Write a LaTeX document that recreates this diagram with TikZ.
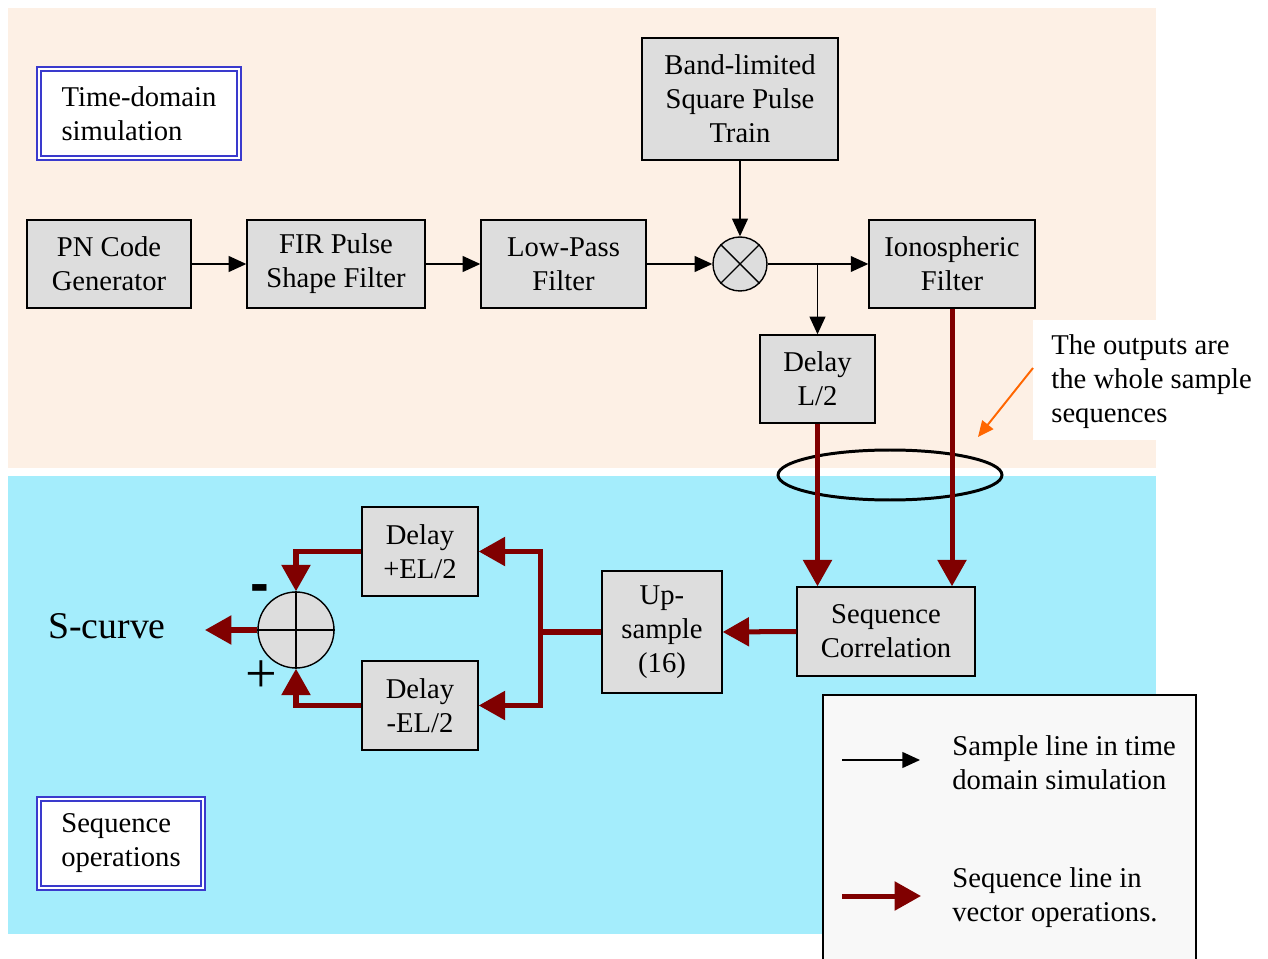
\documentclass[tikz,border=0pt]{standalone}
\usepackage{fontspec}
\setmainfont{Liberation Serif}
\newfontfamily\signsans{Liberation Sans}
\usetikzlibrary{arrows.meta,calc,shapes.geometric}
\definecolor{peach}{HTML}{FDF0E5}
\definecolor{skyb}{HTML}{A4EDFC}
\definecolor{boxgray}{HTML}{DDDDDD}
\definecolor{seqred}{HTML}{800000}
\definecolor{frameblue}{HTML}{3A3ACD}
\definecolor{callorange}{HTML}{FF6600}
\definecolor{legendfill}{HTML}{F8F8F8}
\tikzset{
  blk/.style={draw=black, line width=0.8pt, fill=boxgray, align=center, inner sep=0pt,
              font=\fontsize{16.3}{19.3}\selectfont},
  tarrow/.style={draw=black, line width=0.8pt, -{Triangle[length=10pt,width=9pt]}},
  sarrow/.style={draw=seqred, line width=2.85pt, -{Triangle[length=15pt,width=16pt]}},
  sline/.style={draw=seqred, line width=2.85pt},
  labelframe/.style={draw=frameblue, line width=0.9pt, double=white, double distance=1.3pt,
              fill=white, align=left, inner sep=0pt, font=\fontsize{16.3}{19.3}\selectfont},
  plaintext/.style={align=left, inner sep=0pt, font=\fontsize{16.3}{19.3}\selectfont},
  opcircle/.style={draw=black, line width=0.8pt, fill=boxgray, circle, inner sep=0pt}
}
\begin{document}
\begin{tikzpicture}[x=0.02cm,y=-0.02cm]
\useasboundingbox (0,0) rectangle (1268,959);
% backgrounds
\fill[peach] (8,8) rectangle (1156,468);
\fill[skyb] (8,476) rectangle (1156,934);
% callout box
\fill[white] (1033,320) rectangle (1268,440);
\node[plaintext, anchor=west] (callout) at (1051,382) {The outputs are\\the whole sample\\sequences};
% legend box
\draw[line width=0.8pt, fill=legendfill] (823,970) -- (823,695) -- (1196,695) -- (1196,970);
\node[plaintext, anchor=west] (leg1) at (952,763) {Sample line in time\\domain simulation};
\node[plaintext, anchor=west] (leg2) at (952,898) {Sequence line in\\vector operations.};
\coordinate (l1a) at (842,760); \coordinate (l1b) at (920,760);
\coordinate (l2a) at (842,896); \coordinate (l2b) at (921,896);
\draw[tarrow] (l1a) -- (l1b);
\draw[sarrow] (l2a) -- (l2b);
% section labels
\node[labelframe, minimum width=4.0cm, minimum height=1.78cm] (td) at (139,113.5) {Time-domain\\simulation};
\node[labelframe, minimum width=3.28cm, minimum height=1.78cm] (so) at (121,843.5) {Sequence\\operations};
% time-domain blocks
\node[blk, minimum width=3.28cm, minimum height=1.76cm] (pn) at (109,264) {PN Code\\Generator};
\node[blk, minimum width=3.56cm, minimum height=1.76cm] (fir) at (336,264) {FIR Pulse\\Shape Filter};
\node[blk, minimum width=3.30cm, minimum height=1.76cm] (lpf) at (563.5,264) {Low-Pass\\Filter};
\node[blk, minimum width=3.92cm, minimum height=2.44cm] (band) at (740,99) {Band-limited\\Square Pulse\\Train};
\node[opcircle, minimum size=1.08cm] (mult) at (740,264) {};
\draw[line width=0.8pt] (mult.45) -- (mult.225) (mult.135) -- (mult.315);
\node[blk, minimum width=3.32cm, minimum height=1.76cm] (iono) at (952,264) {Ionospheric\\Filter};
\node[blk, minimum width=2.30cm, minimum height=1.76cm] (dl2) at (817.5,379) {Delay\\L/2};
% sequence blocks
\node[blk, minimum width=3.56cm, minimum height=1.78cm] (sc) at (886,631.5) {Sequence\\Correlation};
\node[blk, minimum width=2.40cm, minimum height=2.44cm] (up) at (662,632) {Up-\\sample\\(16)};
\node[blk, minimum width=2.32cm, minimum height=1.78cm] (dp) at (420,551.5) {Delay\\+EL/2};
\node[blk, minimum width=2.32cm, minimum height=1.78cm] (dm) at (420,705.5) {Delay\\-EL/2};
\node[opcircle, minimum size=1.52cm] (sum) at (296,630) {};
\draw[line width=0.8pt] (sum.north) -- (sum.south) (sum.west) -- (sum.east);
\node[inner sep=0pt, font=\fontsize{21.5}{24}\selectfont] (scurve) at (107,626) {S-curve};
\node[inner sep=0pt, font=\fontsize{32}{34}\signsans\bfseries] (minus) at (260,594) {-};
\node[inner sep=0pt, font=\fontsize{32}{34}\selectfont] (plus) at (261,677) {+};
% ellipse
\node[draw=black, line width=1.7pt, ellipse, minimum width=4.48cm, minimum height=1.0cm, inner sep=0pt] (grp) at (890,475) {};
% callout arrow
\coordinate (calltail) at (1033,368);
\coordinate (callhead) at (978,437);
\draw[callorange, line width=1.1pt, -{Triangle[length=9pt,width=8pt]}] (calltail) -- (callhead);
% black arrows
\draw[tarrow] (pn.east) -- (fir.west);
\draw[tarrow] (fir.east) -- (lpf.west);
\draw[tarrow] (lpf.east) -- (mult.west);
\draw[tarrow] (band.south) -- (mult.north);
\draw[tarrow] (mult.east) -- (iono.west);
\coordinate (branch) at (mult.east -| dl2.north);
\draw[tarrow] (branch) -- (dl2.north);
% red arrows
\draw[sarrow] (dl2.south) -- (dl2.south |- sc.north);
\draw[sarrow] (iono.south) -- (iono.south |- sc.north);
\draw[sarrow] (sc.west) -- (up.east);
\coordinate (split) at (540,632);
\draw[sline] (up.west) -- (split);
\draw[sarrow] (split) |- (dp.east);
\draw[sarrow] (split) |- (dm.east);
\draw[sarrow] (dp.west) -| (sum.north);
\draw[sarrow] (dm.west) -| (sum.south);
\coordinate (out) at (205,630);
\draw[sarrow] (sum.west) -- (out);
\end{tikzpicture}
\end{document}
